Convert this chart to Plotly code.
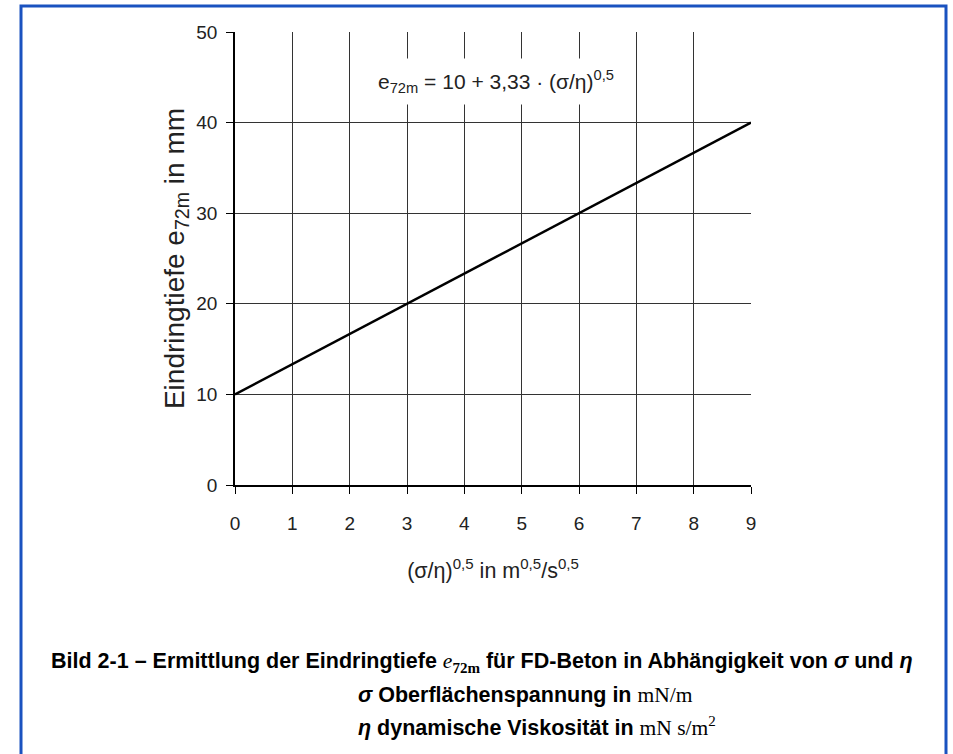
import plotly.graph_objects as go

# Data
x_vals = [0, 3, 6, 9]
e72m_vals = [10, 20, 30, 40]
x_ticks = [0, 1, 2, 3, 4, 5, 6, 7, 8, 9]
y_ticks = [0, 10, 20, 30, 40, 50]

W, H = 953, 754
L, R, T, B = 235, 751, 32, 485  # plot area pixels


def px(xp):
    return (xp - L) / (R - L)


def py(yp):
    return (B - yp) / (B - T)


fig = go.Figure()
fig.add_trace(go.Scatter(x=x_vals, y=e72m_vals, mode="lines",
                         line=dict(color="black", width=2.5), showlegend=False,
                         hoverinfo="skip"))

sans = "Liberation Sans, Arial, sans-serif"

fig.update_layout(
    width=W, height=H,
    margin=dict(l=L, r=W - R, t=T, b=H - B),
    paper_bgcolor="white", plot_bgcolor="white",
    font=dict(family=sans, color="#222", size=20),
    xaxis=dict(range=[0, 9], tickvals=x_ticks, showgrid=True, gridcolor="#333",
               gridwidth=1, zeroline=False, showline=True, linecolor="black",
               linewidth=1.5, ticks="outside", ticklen=7, tickcolor="black",
               tickfont=dict(size=19), ticklabelstandoff=13,
               title=dict(text="(σ/η)<sup>0,5</sup> in m<sup>0,5</sup>/s<sup>0,5</sup>",
                          font=dict(size=21.5), standoff=30)),
    yaxis=dict(range=[0, 50], tickvals=y_ticks, showgrid=True, gridcolor="#333",
               gridwidth=1, zeroline=False, showline=True, linecolor="black",
               linewidth=1.5, ticks="outside", ticklen=7, tickcolor="black",
               tickfont=dict(size=19), ticklabelstandoff=5,
               title=dict(text="Eindringtiefe e<sub>72m</sub> in mm",
                          font=dict(size=28), standoff=4)),
)

fig.add_annotation(x=px(496), y=py(58), xref="paper", yref="paper",
                   text="e<sub>72m</sub> = 10 + 3,33 · (σ/η)<sup>0,5</sup>",
                   showarrow=False, font=dict(size=21, color="#222"),
                   bgcolor="white", borderpad=8)

cap1 = ("<b>Bild 2-1 – Ermittlung der Eindringtiefe </b>"
        "<span style='font-family:Liberation Serif'><i>e</i><sub><b>72m</b></sub></span>"
        "<b> für FD-Beton in Abhängigkeit von </b><b><i>σ</i></b><b> und </b><b><i>η</i></b>")
cap2 = ("<b><i>σ</i> Oberflächenspannung in </b>"
        "<span style='font-family:Liberation Serif'>mN/m</span>")
cap3 = ("<b><i>η</i> dynamische Viskosität in </b>"
        "<span style='font-family:Liberation Serif'>mN s/m<sup>2</sup></span>")

capfont = dict(size=21.5, color="black", family=sans)
fig.add_annotation(x=px(482), y=py(662), xref="paper", yref="paper", text=cap1,
                   showarrow=False, font=capfont, xanchor="center", yanchor="middle")
fig.add_annotation(x=px(356), y=py(695), xref="paper", yref="paper", text=cap2,
                   showarrow=False, font=capfont, xanchor="left", yanchor="middle")
fig.add_annotation(x=px(356), y=py(726), xref="paper", yref="paper", text=cap3,
                   showarrow=False, font=capfont, xanchor="left", yanchor="middle")

# blue frame
fig.add_shape(type="rect", xref="paper", yref="paper",
              x0=px(21), x1=px(946), y0=py(770), y1=py(6),
              line=dict(color="#1a52c0", width=3), layer="above")

fig.write_html("out.html", config={"displayModeBar": False},
               post_script="document.body.style.margin='0';")
